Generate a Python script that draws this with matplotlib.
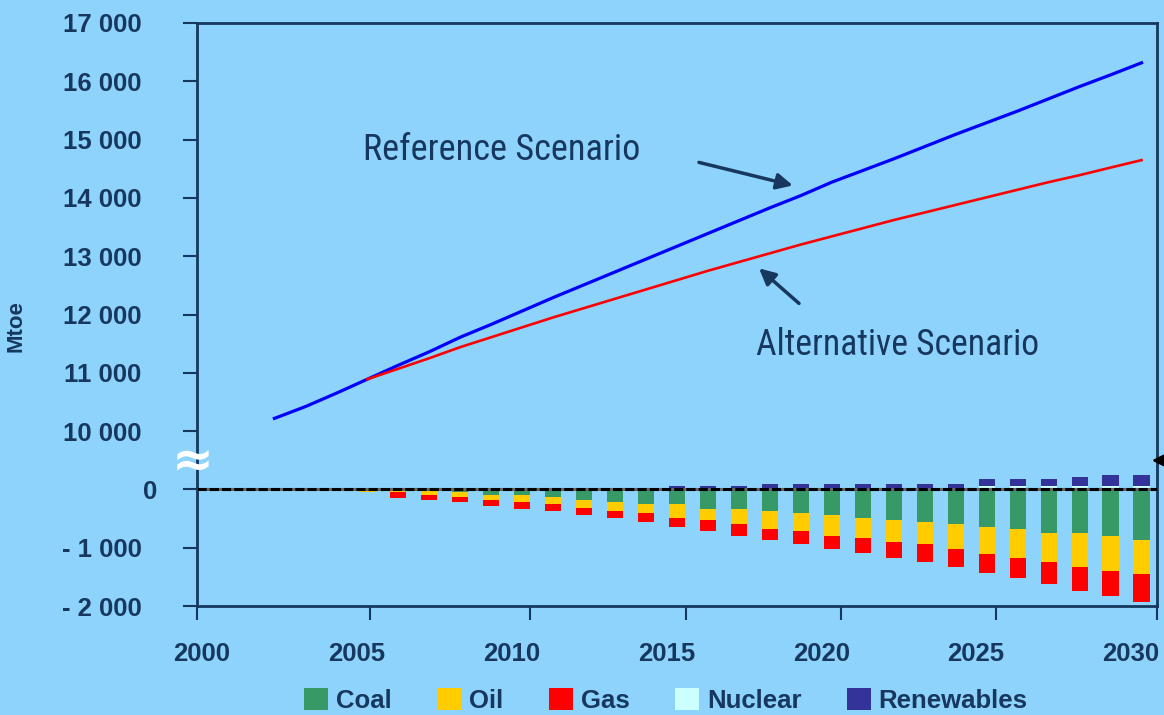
import matplotlib
matplotlib.use("Agg")
import matplotlib.pyplot as plt
import matplotlib.transforms as mtransforms
import numpy as np

# ---- data (Mtoe) ----
ref_years = list(range(2002, 2031))
ref_demand = [10218, 10420, 10650, 10890, 11130, 11360, 11610, 11830, 12060, 12290,
              12510, 12730, 12950, 13170, 13390, 13610, 13830, 14040, 14270, 14470,
              14670, 14880, 15090, 15290, 15490, 15700, 15910, 16110, 16317]

alt_years = list(range(2005, 2031))
alt_demand = [10890, 11070, 11250, 11440, 11610, 11780, 11950, 12110, 12270, 12430,
              12590, 12750, 12900, 13050, 13200, 13340, 13480, 13620, 13750, 13880,
              14010, 14140, 14270, 14390, 14520, 14648]

bar_years = list(range(2005, 2031))
coal = [0, 17, 17, 51, 97, 103, 137, 177, 217, 251, 251, 332, 332, 371, 405, 445,
        485, 525, 560, 600, 640, 680, 754, 754, 794, 868]
oil = [45, 34, 74, 80, 80, 114, 108, 148, 148, 154, 236, 186, 270, 303, 309, 349,
       343, 377, 382, 422, 462, 491, 491, 571, 605, 577]
gas = [0, 92, 86, 86, 114, 114, 126, 120, 120, 155, 152, 194, 190, 188, 228, 222,
       263, 269, 308, 303, 337, 342, 382, 417, 423, 491]
nuclear = [0, 0, 0, 0, 0, 0, 0, 0, 0, 0, 0, 0, 0, 0, 0, 0,
           0, 0, 0, 0, 57, 57, 57, 57, 57, 57]
renewables = [0, 0, 0, 0, 0, 0, 0, 0, 0, 0, 55, 55, 55, 97, 97, 97,
              97, 97, 97, 97, 114, 114, 114, 154, 192, 192]

ytick_vals = [-2000, -1000, 0, 10000, 11000, 12000, 13000, 14000, 15000, 16000, 17000]
ytick_labels = ["- 2 000", "- 1 000", "0", "10 000", "11 000", "12 000", "13 000",
                "14 000", "15 000", "16 000", "17 000"]
xtick_years = [2000, 2005, 2010, 2015, 2020, 2025, 2030]

# axis is broken between 0 and 10 000: the upper part is shifted down by 9 000
BREAK = 9000

def to_plot(v):
    v = np.asarray(v, dtype=float)
    return np.where(v >= 10000, v - BREAK, v)

bg = "#8DD3FC"
navy = "#17375E"
col_coal, col_oil, col_gas, col_nuc, col_ren = "#379966", "#FFCC00", "#FF0000", "#CCFFFF", "#333399"

plt.rcParams["font.family"] = ["Liberation Sans", "DejaVu Sans"]

fig = plt.figure(figsize=(11.64, 7.15), dpi=100)
fig.patch.set_facecolor(bg)
ax = fig.add_axes([197 / 1164, 109 / 715, 960 / 1164, 583 / 715])
ax.set_facecolor(bg)

# stacked bars: negatives down from zero, positives up
w = 0.52
coal_a = -np.array(coal, float)
oil_a = -np.array(oil, float)
gas_a = -np.array(gas, float)
ax.bar(bar_years, coal_a, w, color=col_coal, zorder=2, label="Coal")
ax.bar(bar_years, oil_a, w, bottom=coal_a, color=col_oil, zorder=2, label="Oil")
ax.bar(bar_years, gas_a, w, bottom=coal_a + oil_a, color=col_gas, zorder=2, label="Gas")
ax.bar(bar_years, nuclear, w, color=col_nuc, zorder=2, label="Nuclear")
ax.bar(bar_years, renewables, w, bottom=nuclear, color=col_ren, zorder=2, label="Renewables")

# zero line
ax.axhline(0, color="#666666", lw=2.2, zorder=3)
ax.axhline(0, color="black", lw=2.2, ls=(0, (3, 1)), zorder=4)

# scenario lines
ax.plot(ref_years, to_plot(ref_demand), color="#0000FF", lw=2.3, zorder=5)
ax.plot(alt_years, to_plot(alt_demand), color="#FF0000", lw=1.9, zorder=5)

ax.set_xlim(1999.5, 2030.5)
ax.set_ylim(-2000, 8000)

ax.set_yticks(to_plot(ytick_vals))
ax.set_yticklabels(ytick_labels)
ax.tick_params(axis="y", length=10, width=1.5, color=navy, pad=30,
               labelsize=18.5, labelcolor=navy)
for t in ax.get_yticklabels():
    t.set_fontweight("bold")
    if t.get_text() == "0":
        # the zero label sits closer to the axis in the original
        t.set_transform(t.get_transform() +
                        mtransforms.ScaledTranslation(0.16, 0, fig.dpi_scale_trans))

# labels sit a little left of the tick marks, as in the original
ax.set_xticks([y - 0.34 for y in xtick_years])
ax.set_xticklabels([str(y) for y in xtick_years])
ax.tick_params(axis="x", length=0, pad=26, labelsize=18.5, labelcolor=navy)
for t in ax.get_xticklabels():
    t.set_fontweight("bold")
ax.set_xticks([1999.5, 2005.1, 2010.25, 2015.3, 2020.3, 2025.3, 2030.5], minor=True)
ax.tick_params(axis="x", which="minor", length=10, width=1.5, color=navy)

for s in ax.spines.values():
    s.set_color(navy)
    s.set_linewidth(2)

ax.set_ylabel("Mtoe", fontsize=16, fontweight="bold", color=navy)
ax.yaxis.set_label_coords(-0.178, 0.48)

# axis break mark
ax.text(-0.005, 463, "\u2248", transform=ax.get_yaxis_transform(), ha="center", va="center",
        fontsize=36, fontweight="bold", color="white", clip_on=False, zorder=6,
        family=["DejaVu Sans"])

# annotations (narrow face in the original)
narrow = ["Roboto Condensed", "Liberation Sans Narrow", "DejaVu Sans"]
t_ref = ax.text(2009.35, 5815, "Reference Scenario", fontsize=26, color=navy, ha="center",
                va="center", family=narrow, fontstretch="condensed")
t_alt = ax.text(2022.13, 2470, "Alternative Scenario", fontsize=26, color=navy, ha="center",
                va="center", family=narrow, fontstretch="condensed")
arrow_kw = dict(arrowstyle="-|>", color=navy, lw=2.5, mutation_scale=24, shrinkA=0, shrinkB=0)
ax.annotate("", xy=(2018.74, 5214), xytext=(2015.71, 5609), arrowprops=arrow_kw)
ax.annotate("", xy=(2017.65, 3791), xytext=(2018.94, 3190), arrowprops=arrow_kw)
ax.annotate("", xy=(2030.33, 497), xytext=(2031.3, 497), annotation_clip=False,
            arrowprops=dict(arrowstyle="-|>", color="black", lw=2, mutation_scale=26,
                            shrinkA=0, shrinkB=0))

# legend along the bottom edge
handles, labels = ax.get_legend_handles_labels()
fig.legend(handles, labels, loc="center", bbox_to_anchor=(0.572, 0.02), ncol=5,
           frameon=False, prop={"weight": "bold", "size": 18.5}, labelcolor=navy,
           handlelength=0.95, handleheight=0.95, handletextpad=0.3, columnspacing=1.76)

# fit the annotation texts to the width they have in the original
fig.canvas.draw()
renderer = fig.canvas.get_renderer()
for t, target in [(t_ref, 277), (t_alt, 283)]:
    width = t.get_window_extent(renderer).width
    t.set_fontsize(t.get_fontsize() * target / width)

fig.savefig("out.png", dpi=100, facecolor=bg)
